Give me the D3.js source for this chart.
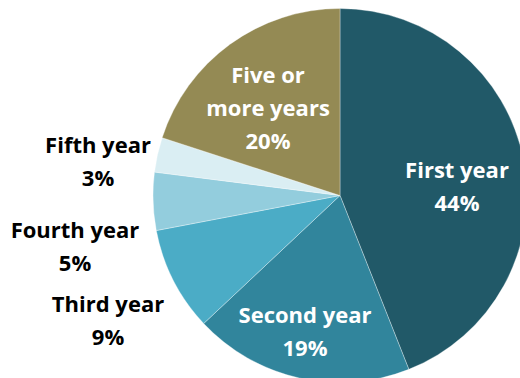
<!DOCTYPE html>
<html>
<head>
<meta charset="utf-8">
<script src="https://cdn.jsdelivr.net/npm/d3@7"></script>
<style>
  html, body { margin: 0; padding: 0; background: #fff; }
  svg { display: block; }
  text { font-family: "Open Sans", "Noto Sans", sans-serif; font-weight: 700; }
</style>
</head>
<body>
<svg id="chart" width="520" height="378"></svg>
<script>
// Share of students by year of study
const categories = ["First year", "Second year", "Third year", "Fourth year", "Fifth year", "Five or more years"];
const shares = [44, 19, 9, 5, 3, 20];
const percentLabels = ["44%", "19%", "9%", "5%", "3%", "20%"];

const colors = ["#215968", "#31859c", "#4bacc6", "#93cddd", "#daeef3", "#948a54"];

const W = 520, H = 378;
const cx = 340, cy = 195.5, R = 187;

// Label layout: lines of text and their offset from the pie centre
const labelLayout = [
  { lines: ["First year"], dx: 117, dy: -9, fill: "#fff" },
  { lines: ["Second year"], dx: -35, dy: 136, fill: "#fff" },
  { lines: ["Third year"], dx: -232, dy: 125, fill: "#000" },
  { lines: ["Fourth year"], dx: -265, dy: 51, fill: "#000" },
  { lines: ["Fifth year"], dx: -242, dy: -34, fill: "#000" },
  { lines: ["Five or", "more years"], dx: -72, dy: -87, fill: "#fff" }
];

const svg = d3.select("#chart");
const g = svg.append("g").attr("transform", `translate(${cx},${cy})`);

const data = categories.map((c, i) => ({ name: c, value: shares[i], pct: percentLabels[i], i }));

const pie = d3.pie().value(d => d.value).sort(null);
const arc = d3.arc().innerRadius(0).outerRadius(R);
const color = d3.scaleOrdinal().domain(categories).range(colors);

g.selectAll("path.slice")
  .data(pie(data))
  .join("path")
  .attr("class", "slice")
  .attr("d", arc)
  .attr("fill", d => color(d.data.name))
  .attr("stroke", "rgba(255,255,255,0.55)")
  .attr("stroke-width", 0.6);

const fontSize = 22;
const lineH = 33;

const labels = g.selectAll("text.lbl")
  .data(data)
  .join("text")
  .attr("class", "lbl")
  .attr("text-anchor", "middle")
  .attr("font-size", fontSize)
  .attr("fill", d => labelLayout[d.i].fill);

labels.each(function(d) {
  const L = labelLayout[d.i];
  const lines = L.lines.concat([d.pct]);
  const n = lines.length;
  const t = d3.select(this);
  lines.forEach((s, k) => {
    t.append("tspan")
      .attr("x", L.dx)
      .attr("y", L.dy + (k - (n - 1) / 2) * lineH)
      .attr("dy", "0.35em")
      .text(s);
  });
});
</script>
</body>
</html>
